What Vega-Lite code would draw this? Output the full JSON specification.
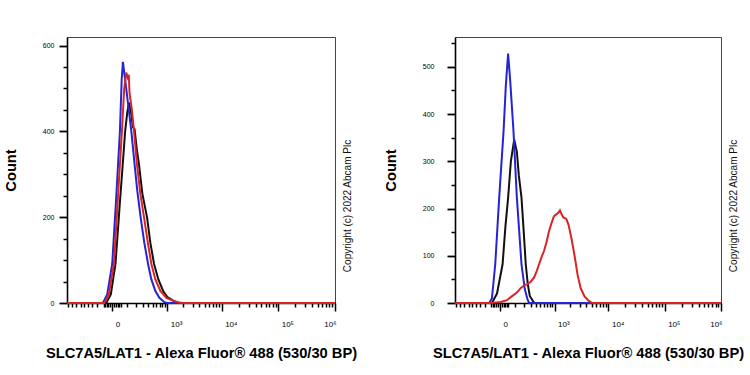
{
  "$schema": "https://vega.github.io/schema/vega-lite/v6.json",
  "padding": {"left": 2, "top": 36, "right": 0, "bottom": 0},
  "spacing": 24,
  "config": {
    "view": {"stroke": "#444", "strokeWidth": 1},
    "font": "Liberation Sans",
    "axis": {"grid": false, "domainColor": "#000", "domainWidth": 1.6, "tickColor": "#000", "tickWidth": 1.5, "labelColor": "#000", "labelFont": "Liberation Sans", "titleFont": "Liberation Sans", "labelFontSize": 7, "titleFontSize": 14.7, "titleFontWeight": "bold", "titleColor": "#000", "labelOverlap": false, "labelFlush": false}
  },
  "datasets": {
    "left": [
      {"s":"black","x":-630,"c":0},{"s":"black","x":-33,"c":0},{"s":"black","x":-7,"c":20},{"s":"black","x":17,"c":91},{"s":"black","x":46,"c":245},{"s":"black","x":63,"c":320},{"s":"black","x":83,"c":401},{"s":"black","x":101,"c":445},{"s":"black","x":117,"c":467},{"s":"black","x":140,"c":440},{"s":"black","x":157,"c":410},{"s":"black","x":177,"c":405},{"s":"black","x":204,"c":360},{"s":"black","x":235,"c":323},{"s":"black","x":287,"c":255},{"s":"black","x":373,"c":199},{"s":"black","x":443,"c":140},{"s":"black","x":534,"c":91},{"s":"black","x":659,"c":55},{"s":"black","x":824,"c":28},{"s":"black","x":1004,"c":14},{"s":"black","x":1315,"c":5},{"s":"black","x":1637,"c":0},{"s":"black","x":1000000,"c":0},
      {"s":"blue","x":-630,"c":0},{"s":"blue","x":-55,"c":0},{"s":"blue","x":-27,"c":20},{"s":"blue","x":0,"c":91},{"s":"blue","x":21,"c":245},{"s":"blue","x":44,"c":401},{"s":"blue","x":56,"c":520},{"s":"blue","x":65,"c":562},{"s":"blue","x":83,"c":520},{"s":"blue","x":110,"c":460},{"s":"blue","x":140,"c":401},{"s":"blue","x":177,"c":323},{"s":"blue","x":211,"c":262},{"s":"blue","x":260,"c":199},{"s":"blue","x":321,"c":140},{"s":"blue","x":393,"c":91},{"s":"blue","x":466,"c":55},{"s":"blue","x":570,"c":28},{"s":"blue","x":691,"c":12},{"s":"blue","x":875,"c":2},{"s":"blue","x":1004,"c":0},{"s":"blue","x":1000000,"c":0},
      {"s":"red","x":-630,"c":0},{"s":"red","x":-44,"c":0},{"s":"red","x":-18,"c":20},{"s":"red","x":8.5,"c":91},{"s":"red","x":31,"c":245},{"s":"red","x":58,"c":401},{"s":"red","x":75,"c":500},{"s":"red","x":92,"c":537},{"s":"red","x":105,"c":525},{"s":"red","x":115,"c":532},{"s":"red","x":122,"c":489},{"s":"red","x":146,"c":450},{"s":"red","x":170,"c":401},{"s":"red","x":207,"c":323},{"s":"red","x":255,"c":255},{"s":"red","x":316,"c":199},{"s":"red","x":389,"c":140},{"s":"red","x":466,"c":91},{"s":"red","x":570,"c":55},{"s":"red","x":725,"c":28},{"s":"red","x":959,"c":12},{"s":"red","x":1315,"c":5},{"s":"red","x":1710,"c":1},{"s":"red","x":2010,"c":0},{"s":"red","x":1000000,"c":0}
    ],
    "right": [
      {"s":"black","x":-630,"c":0},{"s":"black","x":-46,"c":0},{"s":"black","x":-15,"c":20},{"s":"black","x":14,"c":82},{"s":"black","x":30,"c":160},{"s":"black","x":48,"c":223},{"s":"black","x":68,"c":300},{"s":"black","x":95,"c":346},{"s":"black","x":120,"c":320},{"s":"black","x":140,"c":270},{"s":"black","x":170,"c":223},{"s":"black","x":198,"c":150},{"s":"black","x":225,"c":82},{"s":"black","x":255,"c":40},{"s":"black","x":287,"c":15},{"s":"black","x":366,"c":0},{"s":"black","x":1000000,"c":0},
      {"s":"blue","x":-630,"c":0},{"s":"blue","x":-65,"c":0},{"s":"blue","x":-46,"c":10},{"s":"blue","x":-25,"c":82},{"s":"blue","x":-3.4,"c":223},{"s":"blue","x":19.5,"c":364},{"s":"blue","x":33,"c":460},{"s":"blue","x":48,"c":528},{"s":"blue","x":63,"c":470},{"s":"blue","x":89,"c":364},{"s":"blue","x":120,"c":223},{"s":"blue","x":170,"c":82},{"s":"blue","x":211,"c":30},{"s":"blue","x":250,"c":8},{"s":"blue","x":275,"c":0},{"s":"blue","x":1000000,"c":0},
      {"s":"red","x":-630,"c":0},{"s":"red","x":-53,"c":0},{"s":"red","x":5,"c":2},{"s":"red","x":40,"c":6},{"s":"red","x":80,"c":15},{"s":"red","x":120,"c":22},{"s":"red","x":163,"c":32},{"s":"red","x":211,"c":38},{"s":"red","x":250,"c":40},{"s":"red","x":304,"c":45},{"s":"red","x":366,"c":54},{"s":"red","x":421,"c":68},{"s":"red","x":474,"c":82},{"s":"red","x":542,"c":98},{"s":"red","x":607,"c":110},{"s":"red","x":691,"c":130},{"s":"red","x":771,"c":152},{"s":"red","x":875,"c":170},{"s":"red","x":972,"c":184},{"s":"red","x":1099,"c":188},{"s":"red","x":1203,"c":192},{"s":"red","x":1274,"c":196},{"s":"red","x":1345,"c":190},{"s":"red","x":1478,"c":181},{"s":"red","x":1690,"c":178},{"s":"red","x":1866,"c":165},{"s":"red","x":2125,"c":135},{"s":"red","x":2414,"c":100},{"s":"red","x":2742,"c":60},{"s":"red","x":3115,"c":32},{"s":"red","x":3685,"c":14},{"s":"red","x":4360,"c":5},{"s":"red","x":5090,"c":0},{"s":"red","x":1000000,"c":0}
    ]
  },
  "hconcat": [
    {
      "width": 268, "height": 266,
      "data": {"name": "left"},
      "encoding": {
        "color": {"field": "s", "type": "nominal", "scale": {"domain": ["black", "blue", "red"], "range": ["#111111", "#2424d2", "#d82424"]}, "legend": null}
      },
      "layer": [
        {"mark": {"type": "line", "strokeWidth": 2},
         "encoding": {
           "x": {"field": "x", "type": "quantitative",
             "scale": {"type": "symlog", "constant": 120, "domain": [-630, 1000000], "nice": false, "zero": false},
             "axis": {"values": [0, 1000, 10000, 100000, 1000000],
               "labelExpr": "datum.value === 0 ? '0' : datum.value === 1000 ? '10³' : datum.value === 10000 ? '10⁴' : datum.value === 100000 ? '10⁵' : '10⁶'",
               "tickSize": 8, "labelFontSize": 8,
               "labelAlign": {"condition": {"test": "datum.value === 1000000", "value": "right"}, "value": "left"},
               "labelOffset": {"condition": {"test": "datum.value === 1000000", "value": 1}, "value": 3},
               "labelPadding": 9, "labelBound": false,
               "title": "SLC7A5/LAT1 - Alexa Fluor® 488 (530/30 BP)", "titlePadding": 17}},
           "y": {"field": "c", "type": "quantitative", "scale": {"domain": [0, 620], "nice": false},
             "axis": {"orient": "left", "values": [0, 200, 400, 600], "ticks": true, "tickSize": 8, "tickWidth": 1.8, "tickColor": "#000", "labelColor": "#000", "labelPadding": 5, "title": "Count", "titlePadding": 24}}}},
        {"mark": {"type": "line", "strokeOpacity": 0},
         "encoding": {
           "x": {"field": "x", "type": "quantitative",
             "scale": {"type": "symlog", "constant": 120, "domain": [-630, 1000000], "nice": false, "zero": false},
             "axis": {"orient": "bottom", "values": [-600,-500,-400,-300,-250,-200,-150,-100,-50,-40,-30,-20,-10,10,20,30,40,50,100,200,300,400,500,600,700,800,900,2000,3000,4000,5000,6000,7000,8000,9000,20000,30000,40000,50000,60000,70000,80000,90000,200000,300000,400000,500000,600000,700000,800000,900000],
               "tickSize": 4, "tickColor": "#000", "labels": false, "domain": false, "title": null}},
           "y": {"field": "c", "type": "quantitative", "scale": {"domain": [0, 620], "nice": false},
             "axis": {"orient": "left", "values": [50,100,150,250,300,350,450,500,550], "ticks": true, "tickSize": 4, "tickColor": "#000", "labels": false, "domain": false, "title": null}}}},
        {"mark": {"type": "line", "strokeOpacity": 0},
         "encoding": {
           "x": {"field": "x", "type": "quantitative",
             "scale": {"type": "symlog", "constant": 120, "domain": [-630, 1000000], "nice": false, "zero": false}, "axis": null},
           "y": {"field": "c", "type": "quantitative", "scale": {"domain": [0, 620], "nice": false},
             "axis": {"orient": "right", "ticks": false, "labels": false, "domain": false, "title": "Copyright (c) 2022 Abcam Plc", "titleFontSize": 10, "titleFontWeight": "normal", "titleColor": "#111", "titleAngle": 270, "titleBaseline": "top", "titlePadding": 7.5, "titleY": 168.5}}}}
      ],
      "resolve": {"axis": {"x": "independent", "y": "independent"}}
    },
    {
      "width": 266, "height": 266,
      "data": {"name": "right"},
      "encoding": {
        "color": {"field": "s", "type": "nominal", "scale": {"domain": ["black", "blue", "red"], "range": ["#111111", "#2424d2", "#d82424"]}, "legend": null}
      },
      "layer": [
        {"mark": {"type": "line", "strokeWidth": 2},
         "encoding": {
           "x": {"field": "x", "type": "quantitative",
             "scale": {"type": "symlog", "constant": 120, "domain": [-630, 1000000], "nice": false, "zero": false},
             "axis": {"values": [0, 1000, 10000, 100000, 1000000],
               "labelExpr": "datum.value === 0 ? '0' : datum.value === 1000 ? '10³' : datum.value === 10000 ? '10⁴' : datum.value === 100000 ? '10⁵' : '10⁶'",
               "tickSize": 8, "labelFontSize": 8,
               "labelAlign": {"condition": {"test": "datum.value === 1000000", "value": "right"}, "value": "left"},
               "labelOffset": {"condition": {"test": "datum.value === 1000000", "value": 1}, "value": 3},
               "labelPadding": 9, "labelBound": false,
               "title": "SLC7A5/LAT1 - Alexa Fluor® 488 (530/30 BP)", "titlePadding": 17}},
           "y": {"field": "c", "type": "quantitative", "scale": {"domain": [0, 563], "nice": false},
             "axis": {"orient": "left", "values": [0, 100, 200, 300, 400, 500], "tickSize": 8, "tickWidth": 1.8, "labelPadding": 13, "title": "Count", "titlePadding": 24}}}},
        {"mark": {"type": "line", "strokeOpacity": 0},
         "encoding": {
           "x": {"field": "x", "type": "quantitative",
             "scale": {"type": "symlog", "constant": 120, "domain": [-630, 1000000], "nice": false, "zero": false},
             "axis": {"orient": "bottom", "values": [-600,-500,-400,-300,-250,-200,-150,-100,-50,-40,-30,-20,-10,10,20,30,40,50,100,200,300,400,500,600,700,800,900,2000,3000,4000,5000,6000,7000,8000,9000,20000,30000,40000,50000,60000,70000,80000,90000,200000,300000,400000,500000,600000,700000,800000,900000],
               "tickSize": 4, "labels": false, "domain": false, "title": null}},
           "y": {"field": "c", "type": "quantitative", "scale": {"domain": [0, 563], "nice": false},
             "axis": {"orient": "left", "values": [50,150,250,350,450,550], "tickSize": 4, "labels": false, "domain": false, "title": null}}}},
        {"mark": {"type": "line", "strokeOpacity": 0},
         "encoding": {
           "x": {"field": "x", "type": "quantitative",
             "scale": {"type": "symlog", "constant": 120, "domain": [-630, 1000000], "nice": false, "zero": false}, "axis": null},
           "y": {"field": "c", "type": "quantitative", "scale": {"domain": [0, 563], "nice": false},
             "axis": {"orient": "right", "ticks": false, "labels": false, "domain": false, "title": "Copyright (c) 2022 Abcam Plc", "titleFontSize": 10, "titleFontWeight": "normal", "titleColor": "#111", "titleAngle": 270, "titleBaseline": "top", "titlePadding": 7.5, "titleY": 168.5}}}}
      ],
      "resolve": {"axis": {"x": "independent", "y": "independent"}}
    }
  ]
}
